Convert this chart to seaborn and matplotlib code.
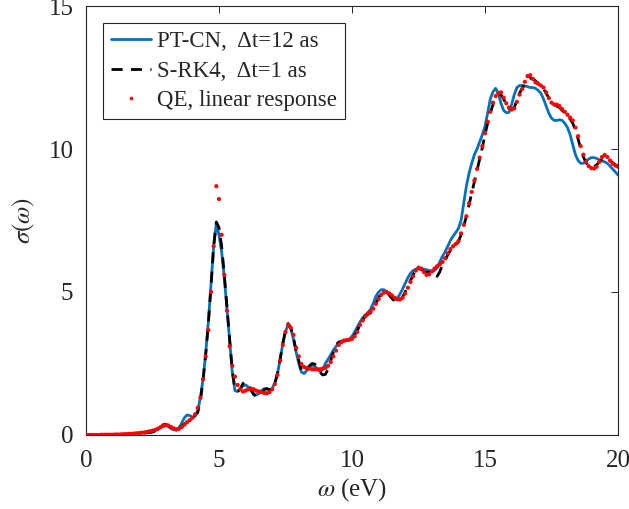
import numpy as np
import pandas as pd
import matplotlib
matplotlib.use('Agg')
import matplotlib.pyplot as plt
import seaborn as sns
from matplotlib.lines import Line2D

# photon energy grid (eV), 0.1 eV sampling
omega = np.linspace(0, 20, 201)

sigma_ptcn = [
    0, 0, 0, 0, 0, 0, 0, 0.01, 0.01, 0.01,
    0.01, 0.01, 0.02, 0.02, 0.02, 0.03, 0.03, 0.04, 0.04, 0.05,
    0.06, 0.07, 0.08, 0.09, 0.1, 0.12, 0.16, 0.2, 0.26, 0.31,
    0.33, 0.3, 0.22, 0.18, 0.17, 0.25, 0.42, 0.6, 0.7, 0.68,
    0.62, 0.65, 0.85, 1.3, 1.95, 2.85, 3.95, 5.25, 6.6, 7.4,
    7.0, 6.4, 5.5, 4.4, 3.3, 2.2, 1.55, 1.52, 1.62, 1.72,
    1.75, 1.68, 1.55, 1.44, 1.4, 1.45, 1.55, 1.62, 1.62, 1.58,
    1.62, 1.82, 2.15, 2.65, 3.2, 3.62, 3.85, 3.72, 3.35, 2.9,
    2.5, 2.2, 2.15, 2.25, 2.38, 2.45, 2.4, 2.3, 2.22, 2.3,
    2.5, 2.65, 2.8, 2.97, 3.1, 3.2, 3.25, 3.28, 3.3, 3.35,
    3.45, 3.6, 3.78, 3.95, 4.1, 4.2, 4.28, 4.4, 4.6, 4.85,
    5.0, 5.08, 5.08, 5.0, 4.9, 4.78, 4.72, 4.78, 4.92, 5.1,
    5.3, 5.5, 5.65, 5.75, 5.8, 5.8, 5.8, 5.8, 5.78, 5.75,
    5.72, 5.75, 5.85, 6.05, 6.25, 6.4, 6.6, 6.8, 6.95, 7.08,
    7.22, 7.5, 8.1, 8.7, 9.15, 9.5, 9.8, 10.0, 10.25, 10.5,
    10.8, 11.25, 11.75, 12.0, 12.12, 11.95, 11.6, 11.35, 11.27, 11.28,
    11.55, 11.9, 12.15, 12.22, 12.22, 12.2, 12.18, 12.15, 12.15, 12.12,
    12.05, 11.95, 11.75, 11.5, 11.25, 11.08, 11.0, 11.0, 11.02, 11.0,
    10.9, 10.75, 10.5, 10.15, 9.8, 9.6, 9.5, 9.5, 9.58, 9.65,
    9.7, 9.7, 9.67, 9.62, 9.58, 9.55, 9.5, 9.4, 9.3, 9.2,
    9.09,
]

sigma_srk4 = [
    0, 0, 0, 0, 0, 0, 0, 0, 0, 0.01,
    0.01, 0.01, 0.01, 0.02, 0.02, 0.02, 0.03, 0.03, 0.04, 0.05,
    0.05, 0.06, 0.07, 0.08, 0.09, 0.1, 0.14, 0.2, 0.28, 0.36,
    0.38, 0.32, 0.24, 0.2, 0.2, 0.25, 0.3, 0.38, 0.45, 0.55,
    0.65, 0.7, 0.78, 1.2, 1.9, 2.8, 3.9, 5.2, 6.6, 7.45,
    7.25, 6.6, 5.6, 4.5, 3.35, 2.25, 1.6, 1.52, 1.6, 1.8,
    1.86, 1.78, 1.6, 1.42, 1.34, 1.38, 1.48, 1.58, 1.62, 1.58,
    1.6, 1.8, 2.15, 2.65, 3.2, 3.65, 3.9, 3.75, 3.4, 2.95,
    2.6, 2.25, 2.22, 2.3, 2.42, 2.5, 2.48, 2.35, 2.2, 2.1,
    2.12, 2.3, 2.6, 2.9, 3.15, 3.25, 3.28, 3.3, 3.3, 3.32,
    3.38, 3.5, 3.65, 3.85, 4.02, 4.15, 4.22, 4.27, 4.38, 4.6,
    4.8, 4.95, 5.02, 5.0, 4.9, 4.78, 4.68, 4.63, 4.68, 4.82,
    5.0, 5.2, 5.4, 5.6, 5.78, 5.85, 5.8, 5.72, 5.68, 5.7,
    5.72, 5.65, 5.55, 5.7, 5.95, 6.1, 6.3, 6.45, 6.55, 6.65,
    6.75, 7.0, 7.3, 7.65, 8.05, 8.45, 8.85, 9.25, 9.65, 10.05,
    10.5, 10.9, 11.25, 11.55, 11.8, 11.9, 11.9, 11.75, 11.55, 11.42,
    11.38, 11.45, 11.7, 11.95, 12.12, 12.3, 12.42, 12.48, 12.45, 12.38,
    12.3, 12.22, 12.1, 11.95, 11.78, 11.62, 11.55, 11.5, 11.45, 11.35,
    11.25, 11.15, 11.05, 10.9, 10.65, 10.35, 10.0, 9.72, 9.52, 9.4,
    9.35, 9.38, 9.45, 9.55, 9.65, 9.7, 9.68, 9.6, 9.52, 9.45,
    9.4,
]

sigma_qe = [
    0, 0, 0, 0, 0, 0, 0.01, 0.01, 0.01, 0.01,
    0.01, 0.02, 0.02, 0.02, 0.03, 0.03, 0.04, 0.04, 0.05, 0.06,
    0.07, 0.08, 0.09, 0.11, 0.13, 0.15, 0.18, 0.22, 0.27, 0.32,
    0.35, 0.33, 0.28, 0.23, 0.2, 0.22, 0.28, 0.36, 0.45, 0.52,
    0.6, 0.72, 0.95, 1.3, 1.95, 2.75, 3.67, 5.0, 6.6, 8.7,
    8.25, 7.0, 5.6, 4.35, 3.1, 2.42, 2.04, 1.75, 1.6, 1.52,
    1.55, 1.6, 1.62, 1.6, 1.55, 1.52, 1.5, 1.47, 1.46, 1.5,
    1.6, 1.78, 2.1, 2.6, 3.15, 3.6, 3.85, 3.75, 3.5, 3.05,
    2.75, 2.48, 2.38, 2.33, 2.32, 2.3, 2.3, 2.3, 2.3, 2.32,
    2.35, 2.42, 2.55, 2.75, 2.95, 3.15, 3.25, 3.3, 3.32, 3.33,
    3.36, 3.45, 3.6, 3.85, 4.0, 4.15, 4.25, 4.32, 4.42, 4.58,
    4.75, 4.9, 4.98, 5.0, 4.95, 4.88, 4.8, 4.75, 4.74, 4.8,
    4.95, 5.15, 5.35, 5.55, 5.75, 5.85, 5.82, 5.7, 5.6, 5.62,
    5.72, 5.82, 5.9, 5.96, 6.05, 6.18, 6.35, 6.5, 6.6, 6.68,
    6.78, 7.05, 7.35, 7.65, 8.1, 8.5, 8.9, 9.3, 9.7, 10.1,
    10.55, 10.95, 11.3, 11.62, 11.85, 11.95, 11.98, 11.8, 11.6, 11.45,
    11.38, 11.42, 11.65, 11.9, 12.1, 12.35, 12.55, 12.58, 12.45, 12.33,
    12.28, 12.22, 12.15, 11.98, 11.78, 11.62, 11.56, 11.55, 11.5, 11.4,
    11.3, 11.2, 11.1, 11.0, 10.75, 10.45, 10.1, 9.8, 9.55, 9.4,
    9.33, 9.32, 9.38, 9.55, 9.72, 9.79, 9.72, 9.6, 9.48, 9.42,
    9.38,
]

series_labels = ['PT-CN,  \u0394t=12 as', 'S-RK4,  \u0394t=1 as', 'QE, linear response']
x_ticks = [0, 5, 10, 15, 20]
y_ticks = [0, 5, 10, 15]

sns.set_theme(style='white')
plt.rcParams['font.family'] = ['Liberation Serif', 'DejaVu Serif']
plt.rcParams['mathtext.fontset'] = 'stix'

df = pd.DataFrame({'omega': omega, 'ptcn': sigma_ptcn, 'srk4': sigma_srk4, 'qe': sigma_qe})

fig = plt.figure(figsize=(6.29, 5.09), dpi=100)
ax = fig.add_axes([0.1367, 0.1454, 0.8458, 0.8428])

sns.lineplot(data=df, x='omega', y='ptcn', ax=ax, color='#0072BD', lw=2.0, legend=False)
line_blue = ax.lines[-1]
sns.lineplot(data=df, x='omega', y='srk4', ax=ax, color='black', lw=2.0, legend=False)
line_black = ax.lines[-1]
line_black.set_dashes([4, 3])
sns.scatterplot(data=df, x='omega', y='qe', ax=ax, color='red', s=9,
                linewidth=0, edgecolor='none', legend=False, zorder=5)

ax.set_xlim(0, 20)
ax.set_ylim(0, 15)
ax.set_xticks(x_ticks)
ax.set_yticks(y_ticks)
ax.tick_params(direction='in', top=True, right=True, length=5, width=0.7,
               labelsize=18, colors='#262626')
ax.tick_params(axis='x', pad=11)
ax.tick_params(axis='y', pad=9)
for sp in ax.spines.values():
    sp.set_visible(True)
    sp.set_color('#262626')
    sp.set_linewidth(0.8)

ax.set_xlabel(r'$\omega$ (eV)', fontsize=18, color='#262626', labelpad=3)
ax.set_ylabel(r'$\sigma(\omega)$', fontsize=18, color='#262626', labelpad=8)

qe_handle = Line2D([], [], ls='none', marker='o', markersize=2.6, color='red',
                   markeredgewidth=0)
handles = [line_blue, line_black, qe_handle]
leg = ax.legend(handles, series_labels, loc='upper left', bbox_to_anchor=(0.032, 0.961),
                borderaxespad=0, fontsize=16.5, frameon=True, fancybox=False,
                framealpha=1, edgecolor='#262626', handlelength=1.75,
                handletextpad=0.25, labelspacing=0.38, borderpad=0.35, numpoints=1)
leg.get_frame().set_linewidth(0.8)

fig.savefig('out.png', dpi=100)
